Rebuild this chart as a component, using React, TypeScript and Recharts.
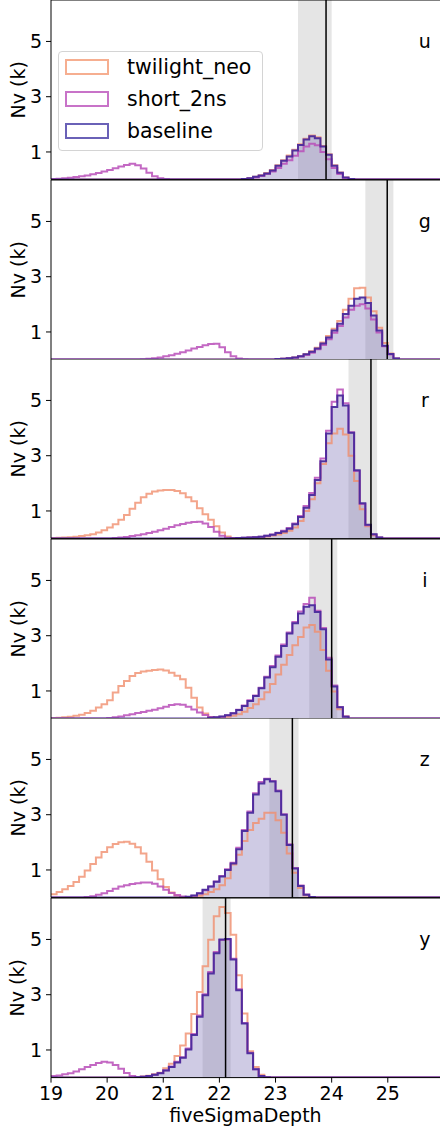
import {
  Area,
  ComposedChart,
  Legend,
  Line,
  ReferenceArea,
  ReferenceDot,
  ReferenceLine,
  XAxis,
  YAxis,
} from "recharts";

// Histograms of fiveSigmaDepth per filter, bin width 0.1 mag.
// start = left edge of first bin, counts in thousands of visits.
type Hist = { start: number; counts: number[] };

const bands = ["u", "g", "r", "i", "z", "y"];
const bandLow = [23.4, 24.6, 24.3, 23.6, 22.89, 21.7];
const bandHigh = [24.0, 25.1, 24.81, 24.1, 23.41, 22.2];
const medians = [23.9, 24.99, 24.7, 24.0, 23.3, 22.11];

const xTicks = [19, 20, 21, 22, 23, 24, 25];
const yTicks = [1, 3, 5];

const uTwilight: Hist = {
  start: 22.4,
  counts: [0.02, 0.05, 0.1, 0.16, 0.24, 0.35, 0.52, 0.7, 0.87, 1.08, 1.28, 1.48, 1.6, 1.53, 1.22, 0.92, 0.52, 0.26, 0.08, 0.02],
};
const uShort: Hist = {
  start: 19.0,
  counts: [
    0.02, 0.03, 0.05, 0.07, 0.09, 0.12, 0.15, 0.19, 0.24, 0.29, 0.35, 0.41, 0.47, 0.53, 0.57, 0.52, 0.4, 0.25, 0.12, 0.05, 0.02,
    0, 0, 0, 0, 0, 0, 0, 0, 0, 0, 0, 0, 0,
    0.02, 0.04, 0.08, 0.13, 0.2, 0.29, 0.42, 0.57, 0.7, 0.86, 1.03, 1.2, 1.3, 1.24, 1.0, 0.74, 0.42, 0.2, 0.06, 0.02,
  ],
};
const uBaseline: Hist = {
  start: 22.4,
  counts: [0.02, 0.05, 0.1, 0.15, 0.22, 0.33, 0.5, 0.68, 0.84, 1.05, 1.25, 1.45, 1.57, 1.5, 1.2, 0.9, 0.5, 0.25, 0.08, 0.02],
};

const gTwilight: Hist = {
  start: 23.0,
  counts: [0.02, 0.03, 0.05, 0.08, 0.12, 0.2, 0.3, 0.43, 0.62, 0.85, 1.12, 1.4, 1.8, 2.2, 2.58, 2.6, 2.25, 1.75, 1.15, 0.6, 0.22, 0.04],
};
const gShort: Hist = {
  start: 20.6,
  counts: [
    0.01, 0.03, 0.05, 0.08, 0.12, 0.16, 0.21, 0.27, 0.33, 0.4, 0.46, 0.52, 0.56, 0.57, 0.45, 0.27, 0.12, 0.04, 0.01,
    0, 0, 0, 0, 0,
    0.02, 0.03, 0.05, 0.07, 0.11, 0.17, 0.25, 0.37, 0.53, 0.74, 0.97, 1.22, 1.52, 1.8, 1.95, 2.0, 1.85, 1.45, 0.98, 0.48, 0.18, 0.04,
  ],
};
const gBaseline: Hist = {
  start: 23.0,
  counts: [0.02, 0.03, 0.05, 0.08, 0.12, 0.19, 0.28, 0.4, 0.58, 0.8, 1.05, 1.3, 1.65, 1.95, 2.2, 2.25, 2.05, 1.6, 1.05, 0.5, 0.2, 0.04],
};

const rTwilight: Hist = {
  start: 19.0,
  counts: [
    0.02, 0.03, 0.04, 0.05, 0.07, 0.09, 0.12, 0.16, 0.22, 0.3, 0.4, 0.52, 0.68, 0.85, 1.08, 1.3, 1.5, 1.62, 1.7, 1.74, 1.76,
    1.76, 1.72, 1.64, 1.5, 1.35, 1.1, 0.88, 0.68, 0.45, 0.22, 0.08, 0.02,
    0.01, 0.02, 0.03,
    0.04, 0.05, 0.08, 0.11, 0.15, 0.2, 0.28, 0.4, 0.64, 1.0, 1.42, 2.0, 2.7, 3.45, 3.8, 3.98, 3.77, 3.0, 2.08, 1.06, 0.45, 0.12, 0.03,
  ],
};
const rShort: Hist = {
  start: 20.1,
  counts: [
    0.02, 0.04, 0.06, 0.09, 0.12, 0.16, 0.2, 0.25, 0.3, 0.36, 0.42, 0.48, 0.53, 0.57, 0.6, 0.61, 0.55, 0.42, 0.25, 0.1, 0.03,
    0.01, 0.02, 0.03, 0.04,
    0.05, 0.07, 0.1, 0.15, 0.21, 0.28, 0.38, 0.55, 0.82, 1.18, 1.65, 2.2, 2.9, 3.9, 4.95, 5.4, 4.9, 3.85, 2.45, 1.25, 0.48, 0.15, 0.04,
  ],
};
const rBaseline: Hist = {
  start: 22.2,
  counts: [
    0.01, 0.02, 0.03, 0.04, 0.05, 0.07, 0.1, 0.14, 0.2, 0.26, 0.36, 0.52, 0.78, 1.12, 1.58, 2.12, 2.8, 3.8, 4.76, 5.18, 4.82,
    3.83, 2.47, 1.28, 0.5, 0.16, 0.04,
  ],
};

const iTwilight: Hist = {
  start: 19.0,
  counts: [
    0.02, 0.03, 0.05, 0.07, 0.1, 0.14, 0.2, 0.28, 0.4, 0.52, 0.66, 0.94, 1.18, 1.36, 1.54, 1.65, 1.7, 1.73, 1.76, 1.78, 1.74,
    1.66, 1.55, 1.42, 1.12, 0.75, 0.4, 0.18, 0.06,
    0.03, 0.05, 0.07,
    0.1, 0.16, 0.25, 0.38, 0.52, 0.7, 0.95, 1.25, 1.6, 1.95, 2.3, 2.65, 2.95, 3.3, 3.39, 3.14, 2.48, 1.73, 0.98, 0.34, 0.08,
  ],
};
const iShort: Hist = {
  start: 20.0,
  counts: [
    0.02, 0.05, 0.08, 0.12, 0.16, 0.2, 0.24, 0.28, 0.32, 0.37, 0.43, 0.49, 0.52, 0.5, 0.43, 0.33, 0.22, 0.13, 0.06,
    0.04, 0.07, 0.12,
    0.19, 0.32, 0.47, 0.66, 0.84, 1.12, 1.51, 1.9, 2.28, 2.68, 3.12, 3.5, 3.88, 4.15, 4.37, 3.9, 3.28, 2.2, 1.2, 0.42, 0.08,
  ],
};
const iBaseline: Hist = {
  start: 21.8,
  counts: [
    0.03, 0.05, 0.08, 0.12, 0.19, 0.31, 0.46, 0.64, 0.82, 1.1, 1.49, 1.86, 2.24, 2.63, 3.08, 3.45, 3.8, 4.05, 4.1, 3.86, 3.23,
    2.14, 1.16, 0.41, 0.07,
  ],
};

const zTwilight: Hist = {
  start: 19.0,
  counts: [
    0.12, 0.2, 0.3, 0.42, 0.56, 0.75, 0.98, 1.22, 1.45, 1.65, 1.82, 1.94, 2.0, 2.02, 1.95, 1.82, 1.6, 1.3, 0.98, 0.66, 0.38,
    0.18, 0.07, 0.02,
    0.02, 0.04, 0.07, 0.12, 0.2,
    0.3, 0.45, 0.7, 1.2, 1.55, 2.05, 2.45, 2.7, 2.85, 3.07, 3.07, 2.8, 2.35, 1.6, 0.9, 0.35, 0.08, 0.02,
  ],
};
const zShort: Hist = {
  start: 19.6,
  counts: [
    0.02, 0.05, 0.1, 0.16, 0.24, 0.32, 0.4, 0.45, 0.49, 0.52, 0.55, 0.55, 0.5, 0.4, 0.28, 0.17, 0.09, 0.04, 0.01,
    0.07, 0.15, 0.27, 0.4, 0.58, 0.78, 1.03, 1.26, 1.8, 2.45, 3.12, 3.78, 4.18, 4.3, 4.22, 3.88, 3.02, 1.93, 1.07, 0.44, 0.11, 0.02,
  ],
};
const zBaseline: Hist = {
  start: 21.4,
  counts: [
    0.03, 0.08, 0.16, 0.28, 0.4, 0.57, 0.76, 1.0, 1.23, 1.75, 2.41, 3.07, 3.73, 4.13, 4.28, 4.2, 3.85, 3.0, 1.9, 1.05, 0.42,
    0.1, 0.02,
  ],
};

const yTwilight: Hist = {
  start: 20.5,
  counts: [
    0.02, 0.04, 0.07, 0.12, 0.18, 0.34, 0.5, 0.78, 1.16, 1.6, 2.3, 3.1, 4.03, 4.99, 5.84, 6.17, 5.96, 5.17, 3.7, 2.32, 0.95,
    0.38, 0.1, 0.02,
  ],
};
const yShort: Hist = {
  start: 19.0,
  counts: [
    0.06, 0.08, 0.12, 0.16, 0.22, 0.3, 0.38, 0.46, 0.53, 0.57, 0.55, 0.46, 0.32, 0.17, 0.06, 0.02,
    0.03, 0.06, 0.1, 0.17, 0.27, 0.4, 0.57, 0.74, 1.05, 1.58, 2.25, 3.02, 3.82, 4.55, 4.98, 5.0, 4.3, 3.2, 1.98, 0.9, 0.3, 0.06, 0.01,
  ],
};
const yBaseline: Hist = {
  start: 20.5,
  counts: [
    0.01, 0.03, 0.06, 0.1, 0.16, 0.26, 0.38, 0.55, 0.72, 1.02, 1.54, 2.2, 2.98, 3.77, 4.5, 5.0, 5.02, 4.27, 3.16, 1.96, 0.88,
    0.3, 0.06, 0.01,
  ],
};

const twilightByBand = [uTwilight, gTwilight, rTwilight, iTwilight, zTwilight, yTwilight];
const shortByBand = [uShort, gShort, rShort, iShort, zShort, yShort];
const baselineByBand = [uBaseline, gBaseline, rBaseline, iBaseline, zBaseline, yBaseline];

const series = [
  { name: "twilight_neo", legendColor: "rgba(244,160,125,0.85)" },
  { name: "short_2ns", legendColor: "rgba(190,90,190,0.85)" },
  { name: "baseline", legendColor: "rgba(90,80,175,0.9)" },
];

const FONT = "'DejaVu Sans', sans-serif";
const PLOT_H = 179.6;
const XAXIS_H = 55.4;

const edges = Array.from({ length: 71 }, (_, i) => Math.round(190 + i) / 10);

function countAt(h: Hist, x: number) {
  const k = Math.round((x - h.start) * 10);
  return k >= 0 && k < h.counts.length ? h.counts[k] : 0;
}

function LegendBox() {
  return (
    <div
      style={{
        position: "relative",
        width: 205,
        height: 100,
        boxSizing: "border-box",
        border: "1px solid #d4d4d4",
        borderRadius: 4,
        background: "rgba(255,255,255,0.8)",
        fontFamily: FONT,
      }}
    >
      {series.map((s, i) => (
        <div key={s.name} style={{ position: "absolute", left: 6, top: 7 + i * 32, height: 16, display: "flex", alignItems: "center" }}>
          <div style={{ width: 44, height: 16, boxSizing: "border-box", border: `2px solid ${s.legendColor}` }} />
          <span style={{ marginLeft: 18, fontSize: 20.5, color: "#000", whiteSpace: "nowrap", lineHeight: "16px" }}>{s.name}</span>
        </div>
      ))}
    </div>
  );
}

function Panel({ idx }: { idx: number }) {
  const bottom = idx === bands.length - 1;
  const tw = twilightByBand[idx];
  const sh = shortByBand[idx];
  const bl = baselineByBand[idx];
  const data = edges.map((x) => ({ x, tw: countAt(tw, x), sh: countAt(sh, x), bl: countAt(bl, x) }));

  return (
    <ComposedChart
      width={440}
      height={bottom ? PLOT_H + XAXIS_H : PLOT_H}
      data={data}
      margin={{ top: 0, right: 0, bottom: 0, left: 0 }}
    >
      <XAxis
        type="number"
        dataKey="x"
        domain={[19, 25.93]}
        allowDataOverflow
        ticks={xTicks}
        hide={!bottom}
        height={XAXIS_H}
        tickSize={5}
        tickMargin={4}
        axisLine={{ stroke: "#000" }}
        tickLine={{ stroke: "#000" }}
        tick={{ fontSize: 19, fill: "#000" }}
        label={{
          content: (p: any) => {
            const vb = p.viewBox;
            return (
              <text x={vb.x + vb.width / 2} y={vb.y + 44.3} textAnchor="middle" fontSize={19} fill="#000">
                fiveSigmaDepth
              </text>
            );
          },
        }}
      />
      <YAxis
        type="number"
        domain={[0, 6.5]}
        allowDataOverflow
        ticks={yTicks}
        width={51}
        tickSize={5}
        tickMargin={4}
        axisLine={{ stroke: "#000" }}
        tickLine={{ stroke: "#000" }}
        tick={{ fontSize: 19, fill: "#000" }}
        label={{
          content: (p: any) => {
            const vb = p.viewBox;
            const cx = vb.x + 17.5;
            const cy = vb.y + vb.height / 2;
            return (
              <text x={cx} y={cy} transform={`rotate(-90 ${cx} ${cy})`} textAnchor="middle" dominantBaseline="central" fontSize={19} fill="#000">
                Nv (k)
              </text>
            );
          },
        }}
      />
      <ReferenceArea x1={bandLow[idx]} x2={bandHigh[idx]} fill="#000" fillOpacity={0.1} stroke="none" />
      <Area
        type="stepAfter"
        dataKey="bl"
        stroke="none"
        fill="#756bb1"
        fillOpacity={0.35}
        dot={false}
        activeDot={false}
        isAnimationActive={false}
      />
      <Line type="stepAfter" dataKey="tw" stroke="#f08f6e" strokeOpacity={0.8} strokeWidth={2} dot={false} activeDot={false} isAnimationActive={false} />
      <Line type="stepAfter" dataKey="sh" stroke="#b94db9" strokeOpacity={0.85} strokeWidth={2} dot={false} activeDot={false} isAnimationActive={false} />
      <Line type="stepAfter" dataKey="bl" stroke="#4a2a9c" strokeOpacity={0.95} strokeWidth={2} dot={false} activeDot={false} isAnimationActive={false} />
      <ReferenceLine x={medians[idx]} stroke="#000" strokeWidth={1.5} />
      <ReferenceLine y={6.5} stroke="#000" strokeWidth={1} />
      {!bottom && <ReferenceLine y={0} stroke="#000" strokeWidth={1} />}
      <ReferenceDot
        x={25.66}
        y={5}
        r={0}
        fill="none"
        stroke="none"
        label={{ value: bands[idx], position: "center", fontSize: 19, fill: "#000" }}
      />
      {idx === 0 && (
        <Legend
          layout="horizontal"
          verticalAlign="middle"
          align="center"
          content={() => <LegendBox />}
          wrapperStyle={{ left: 58, top: 51, width: 205, height: 100 }}
        />
      )}
    </ComposedChart>
  );
}

export default function App() {
  return (
    <div
      style={{
        position: "absolute",
        left: 0,
        top: 0,
        width: 440,
        height: 1133,
        overflow: "hidden",
        background: "#fff",
        fontFamily: FONT,
      }}
    >
      {bands.map((b, i) => (
        <Panel key={b} idx={i} />
      ))}
    </div>
  );
}
